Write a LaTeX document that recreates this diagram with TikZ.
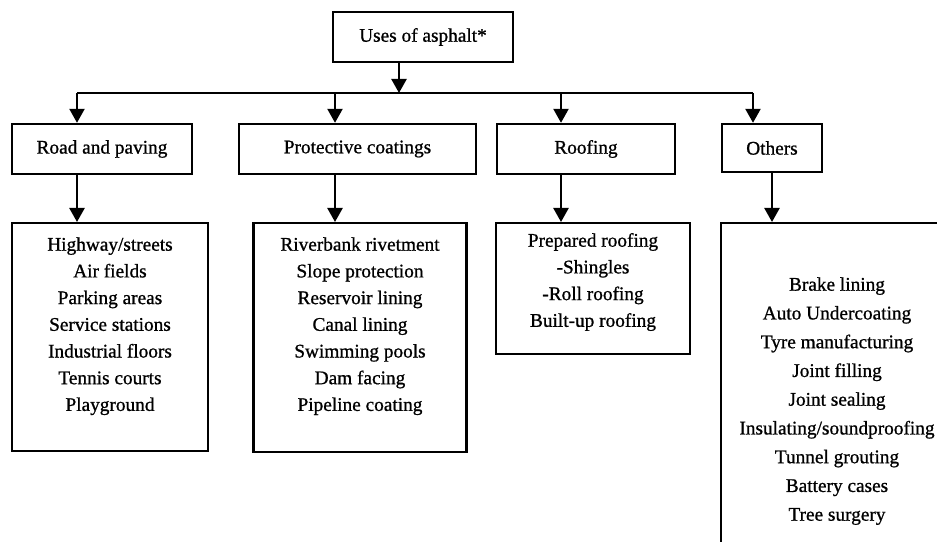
\documentclass[tikz,border=0pt]{standalone}
\usepackage{fontspec}
\setmainfont{Liberation Serif}[FakeBold=0.9]
\usetikzlibrary{arrows.meta,calc}
\tikzstyle{usebox}=[draw,line width=2.4bp,inner sep=0pt,minimum height=50bp,font=\fontsize{19.3bp}{26.7bp}\selectfont]
\tikzstyle{listbox}=[draw,line width=2.4bp,inner sep=0pt,anchor=north,font=\fontsize{19.3bp}{26.7bp}\selectfont]
\tikzstyle{feed}=[line width=2.4bp,-{Triangle[length=14bp,width=15bp]}]
\tikzstyle{bus}=[line width=2.4bp]
\newcommand{\uselist}[1]{\begin{tabular}[t]{@{}c@{}}#1\end{tabular}}

\begin{document}
\begin{tikzpicture}[x=1bp,y=-1bp]
	\useasboundingbox (0,0) rectangle (937,542);
	\node[usebox,minimum width=180bp] (uses) at (423,37) {Uses of asphalt*};
	\node[usebox,minimum width=180bp] (road) at (102,149) {Road and paving};
	\node[usebox,minimum width=237bp] (coat) at (357.5,149) {Protective coatings};
	\node[usebox,minimum width=178bp] (roof) at (586,149) {Roofing};
	\node[usebox,minimum width=100bp,minimum height=48bp] (other) at (772,148) {Others};
	\node[listbox,minimum width=196bp,text height=27.5bp,text depth=200.5bp] (roadlist) at (110,222)
		{\uselist{Highway/streets\\Air fields\\Parking areas\\Service stations\\Industrial floors\\Tennis courts\\Playground}};
	\node[listbox,minimum width=213bp,text height=27.5bp,text depth=201.5bp] (coatlist) at (360,222)
		{\uselist{Riverbank rivetment\\Slope protection\\Reservoir lining\\Canal lining\\Swimming pools\\Dam facing\\Pipeline coating}};
	\node[listbox,minimum width=194bp,text height=23.5bp,text depth=107.5bp] (rooflist) at (593,222)
		{\uselist{Prepared roofing\\-Shingles\\-Roll roofing\\Built-up roofing}};
	\node[listbox,minimum width=232bp,text height=67.5bp,text depth=400bp,font=\fontsize{19.3bp}{28.75bp}\selectfont] (otherlist) at (837,222)
		{\uselist{Brake lining\\Auto Undercoating\\Tyre manufacturing\\Joint filling\\Joint sealing\\Insulating/soundproofing\\Tunnel grouting\\Battery cases\\Tree surgery}};
	\coordinate (hub) at (399,93);
	\coordinate (busL) at (77,93);
	\coordinate (busC) at (335,93);
	\coordinate (busF) at (561,93);
	\coordinate (busR) at (753,93);
	\draw[feed] (uses.south -| hub) -- (hub);
	\draw[bus] (busL) -- (busR);
	\draw[feed] (busL) -- (busL |- road.north);
	\draw[feed] (busC) -- (busC |- coat.north);
	\draw[feed] (busF) -- (busF |- roof.north);
	\draw[feed] (busR) -- (busR |- other.north);
	\draw[feed] (busL |- road.south) -- (busL |- roadlist.north);
	\draw[feed] (busC |- coat.south) -- (busC |- coatlist.north);
	\draw[feed] (busF |- roof.south) -- (busF |- rooflist.north);
	\draw[feed] (other.south) -- (other.south |- otherlist.north);
\end{tikzpicture}
\end{document}
